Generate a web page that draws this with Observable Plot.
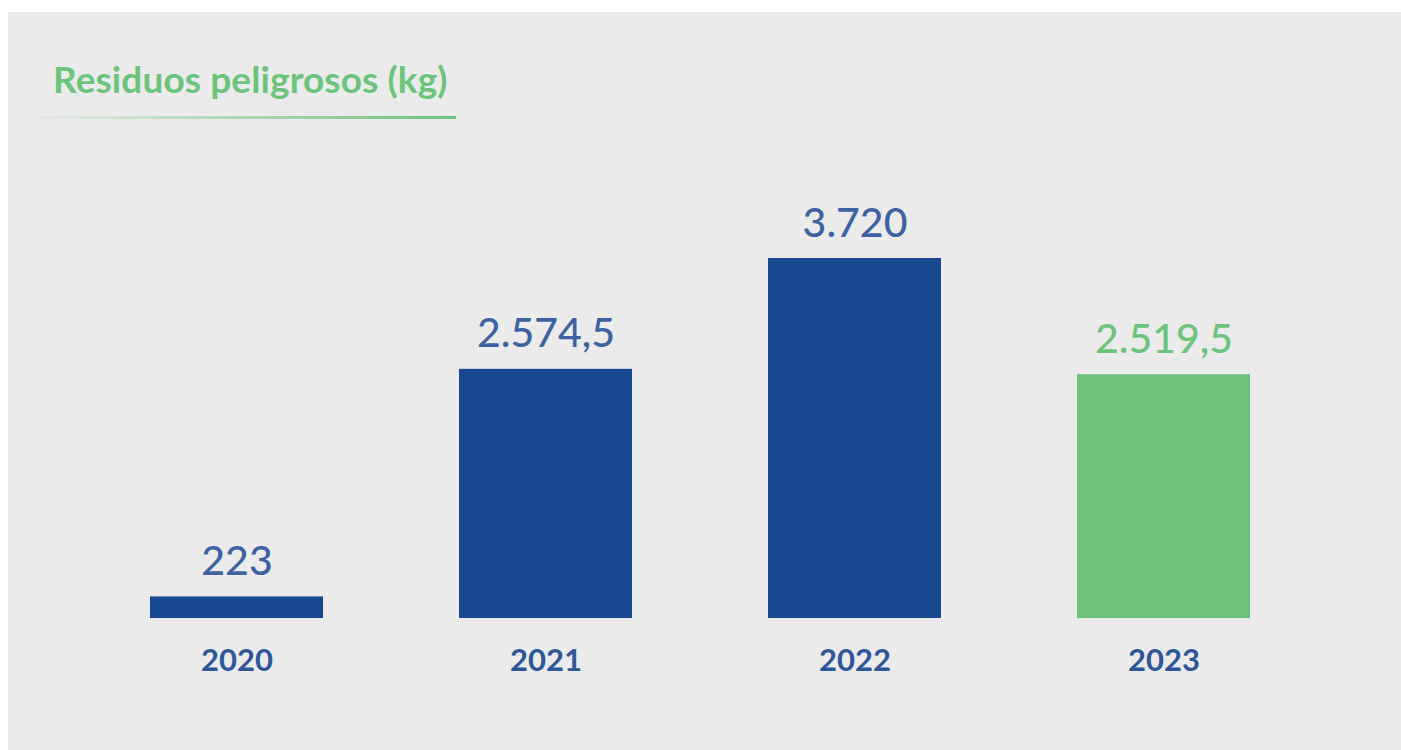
<!DOCTYPE html>
<html>
<head>
<meta charset="utf-8">
<script src="https://cdn.jsdelivr.net/npm/d3@7"></script>
<script src="https://cdn.jsdelivr.net/npm/@observablehq/plot@0.6"></script>
<style>
  html, body { margin: 0; padding: 0; background: #ffffff; width: 1401px; height: 750px; overflow: hidden; }
  #panel { position: absolute; left: 8px; top: 12px; right: 0; bottom: 0; background: #ebebeb; }
  #title { position: absolute; left: 53px; top: 57px; font-family: Lato, sans-serif; font-weight: 700; font-size: 37px; line-height: 44px; color: #6cc47a; letter-spacing: 0.1px; white-space: nowrap; }
  #rule { position: absolute; left: 20px; top: 116px; width: 436px; height: 3px; background: linear-gradient(to right, rgba(108,196,122,0), #6cc47a); }
  #chart { position: absolute; left: 0; top: 0; }
</style>
</head>
<body>
<div id="panel"></div>
<div id="title">Residuos peligrosos (kg)</div>
<div id="rule"></div>
<div id="chart"></div>
<script>
const years = ["2020", "2021", "2022", "2023"];
const values = [223, 2574.5, 3720, 2519.5];
const highlightYear = "2023";

const blue = "#18488f";
const green = "#6cc47a";
const labelBlue = "#3d62a2";
const yearBlue = "#2e5799";

const locale = d3.formatLocale({decimal: ",", thousands: ".", grouping: [3], currency: ["", " €"]});
const fmt = locale.format(",.1~f");

const data = years.map((y, i) => ({year: y, value: values[i]}));

const chart = Plot.plot({
  width: 1401,
  height: 750,
  marginLeft: 72,
  marginRight: 73,
  marginTop: 258,
  marginBottom: 132,
  style: {background: "transparent", fontFamily: "Lato, sans-serif", overflow: "visible"},
  x: {domain: years, paddingInner: 0.441, paddingOuter: 0.25, label: null},
  y: {domain: [0, d3.max(values)], axis: null},
  marks: [
    Plot.barY(data, {x: "year", y: "value", fill: d => d.year === highlightYear ? green : blue}),
    Plot.text(data, {
      x: "year", y: "value", text: d => fmt(d.value),
      dy: -22, lineAnchor: "bottom", fontSize: 41, fontWeight: 500,
      fill: d => d.year === highlightYear ? green : labelBlue
    }),
    Plot.axisX({tickSize: 0, tickPadding: 30, fontSize: 31, fontWeight: 700, fill: yearBlue, label: null})
  ]
});
document.getElementById("chart").appendChild(chart);
</script>
</body>
</html>
